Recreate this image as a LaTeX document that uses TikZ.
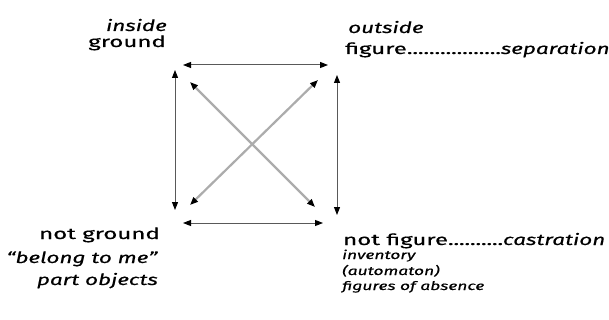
\documentclass[tikz,border=0pt]{standalone}
\usepackage{fontspec}
\setmainfont[FakeStretch=1.55,FakeBold=0.5,ItalicFeatures={FakeStretch=1.45}]{Fira Sans}
\usetikzlibrary{arrows.meta,positioning}
\newcommand\dotrun[1]{\hbox to #1{\xleaders\hbox to 5.5pt{\hss.\hss}\hfill}}

\begin{document}
\begin{tikzpicture}[
        x=1pt, y=-1pt,
        side/.style={draw=gray!70!black, line width=1pt, {Triangle[length=8pt,width=6pt,color=black]}-{Triangle[length=8pt,width=6pt,color=black]}},
        cross/.style={side, draw=gray!65, line width=2.2pt},
        lbl/.style={inner sep=0pt, font=\fontsize{15.5}{18}\selectfont},
        note/.style={inner sep=0pt, font=\fontsize{12}{14}\selectfont\itshape}
    ]
        \useasboundingbox (0,0) rectangle (609,320);

        % Corners of the square
        \coordinate (tl) at (180,68);
        \coordinate (tr) at (332,68);
        \coordinate (bl) at (180,222);
        \coordinate (br) at (330,222);

        % Labels
        \node[lbl, anchor=base east] (lInside) at (167,31) {\textit{inside}};
        \node[lbl, anchor=base east] (lGround) at (166,47) {ground};
        \node[lbl, anchor=base west] (lOutside) at (348,33) {\textit{outside}};
        \node[lbl, anchor=base west] (lFigure) at (345,54) {figure\dotrun{94pt}\textit{separation}};
        \node[lbl, anchor=base east] (lNotGround) at (160,239) {not ground};
        \node[lbl, anchor=base east] (lBelong) at (158,263) {\textit{``belong to me''}};
        \node[lbl, anchor=base east] (lPart) at (158,285) {\textit{part objects}};
        \node[lbl, anchor=base west] (lNotFigure) at (343,245) {not figure\dotrun{55pt}\textit{castration}};
        \node[note, anchor=base west] (lInventory) at (342,259) {inventory};
        \node[note, anchor=base west] (lAutomaton) at (342,275) {(automaton)};
        \node[note, anchor=base west] (lAbsence) at (342,290) {figures of absence};

        % Sides
        \draw[side] ([shift={(3,-3)}]tl) -- ([shift={(-4,-3)}]tr);
        \draw[side] ([shift={(3,1)}]bl) -- ([shift={(-7,1)}]br);
        \draw[side] ([shift={(-5,2)}]tl) -- ([shift={(-5,-12)}]bl);
        \draw[side] ([shift={(5,7)}]tr) -- ([shift={(7,-7)}]br);

        % Diagonals
        \draw[cross] ([shift={(10,14)}]tl) -- ([shift={(-15,-15)}]br);
        \draw[cross] ([shift={(-14,12)}]tr) -- ([shift={(10,-17)}]bl);
    \end{tikzpicture}
\end{document}
